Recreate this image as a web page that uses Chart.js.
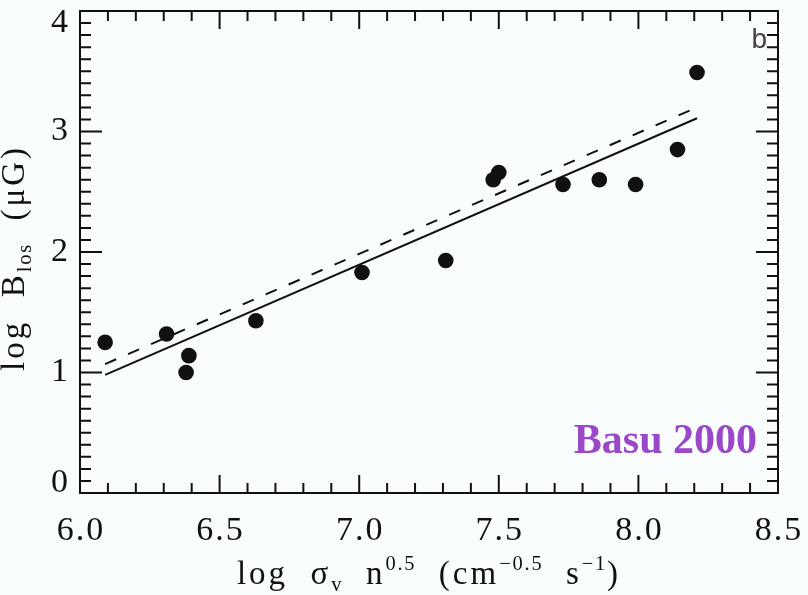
<!DOCTYPE html>
<html>
<head>
<meta charset="utf-8">
<script src="https://cdn.jsdelivr.net/npm/chart.js@4.4.0/dist/chart.umd.min.js"></script>
<style>
  html, body { margin: 0; padding: 0; background: #f9fdfd; }
  canvas { display: block; }
</style>
</head>
<body>
<canvas id="myChart_basu" width="808" height="595"></canvas>
<script>
// data
const logSigmaN = [6.09, 6.31, 6.38, 6.39, 6.63, 7.01, 7.31, 7.48, 7.50, 7.73, 7.86, 7.99, 8.14, 8.21];
const logBlos   = [1.25, 1.32, 1.00, 1.14, 1.43, 1.83, 1.93, 2.60, 2.66, 2.56, 2.60, 2.56, 2.85, 3.49];

// fit lines (end points)
const fitX      = [6.09, 8.21];
const fitSolid  = [0.98, 3.11];
const fitDashed = [1.07, 3.20];

const xTickLabels = ['6.0', '6.5', '7.0', '7.5', '8.0', '8.5'];
const yTickLabels = ['0', '1', '2', '3', '4'];

const serif = '"Liberation Serif", "Times New Roman", serif';
const ink = '#111';

function setPart(ctx, p, size, spacing) {
  ctx.font = (p.k ? size * 0.62 : size) + 'px ' + serif;
  ctx.letterSpacing = (p.k ? spacing * 0.6 : spacing) + 'px';
}

function drawRich(ctx, parts, cx, cy, size, spacing) {
  let w = 0;
  parts.forEach(p => { setPart(ctx, p, size, spacing); w += ctx.measureText(p.t).width; });
  let xpos = cx - w / 2;
  ctx.textBaseline = 'alphabetic';
  ctx.textAlign = 'left';
  parts.forEach(p => {
    setPart(ctx, p, size, spacing);
    let dy = 0;
    if (p.k === 'sup') dy = -size * 0.42;
    if (p.k === 'sub') dy = size * 0.2;
    ctx.fillText(p.t, xpos, cy + dy);
    xpos += ctx.measureText(p.t).width;
  });
  ctx.letterSpacing = '0px';
}

const idlFrame = {
  id: 'idlFrame',
  afterDraw(chart) {
    const { ctx, chartArea: a, scales: { x, y } } = chart;
    ctx.save();
    ctx.strokeStyle = ink;
    ctx.fillStyle = ink;
    ctx.lineWidth = 2;
    ctx.strokeRect(a.left, a.top, a.right - a.left, a.bottom - a.top);

    // inward ticks, x: minor every 0.1, major every 0.5
    ctx.beginPath();
    for (let i = 0; i <= 25; i++) {
      const px = x.getPixelForValue(6 + i * 0.1);
      const len = i % 5 === 0 ? 18 : 10;
      ctx.moveTo(px, a.bottom); ctx.lineTo(px, a.bottom - len);
      ctx.moveTo(px, a.top); ctx.lineTo(px, a.top + len);
    }
    // y: minor every 0.1, major every 1
    for (let i = 0; i <= 40; i++) {
      const py = y.getPixelForValue(i * 0.1);
      const len = i % 10 === 0 ? 22 : 11;
      ctx.moveTo(a.left, py); ctx.lineTo(a.left + len, py);
      ctx.moveTo(a.right, py); ctx.lineTo(a.right - len, py);
    }
    ctx.stroke();

    // tick labels
    ctx.font = '34px ' + serif;
    ctx.letterSpacing = '2px';
    ctx.textAlign = 'center';
    ctx.textBaseline = 'middle';
    xTickLabels.forEach(l => {
      ctx.fillText(l, x.getPixelForValue(parseFloat(l)) + 1, a.bottom + 38);
    });
    ctx.letterSpacing = '0px';
    ctx.textAlign = 'right';
    yTickLabels.forEach(l => {
      let py = y.getPixelForValue(parseFloat(l));
      py = Math.min(Math.max(py, a.top + 12), a.bottom - 10);
      ctx.fillText(l, a.left - 12, py);
    });

    // axis titles
    drawRich(ctx, [
      { t: 'log  ' }, { t: 'σ' }, { t: 'v', k: 'sub' }, { t: '  n' }, { t: '0.5', k: 'sup' },
      { t: '  (cm' }, { t: '−0.5', k: 'sup' }, { t: '  s' }, { t: '−1', k: 'sup' }, { t: ')' }
    ], (a.left + a.right) / 2, 584, 33, 3);

    ctx.save();
    ctx.translate(24, (a.top + a.bottom) / 2 + 6);
    ctx.rotate(-Math.PI / 2);
    drawRich(ctx, [
      { t: 'log  B' }, { t: 'los', k: 'sub' }, { t: '  (μG)' }
    ], 0, 0, 33, 3);
    ctx.restore();

    // panel letter and reference
    ctx.textAlign = 'right';
    ctx.textBaseline = 'alphabetic';
    ctx.fillStyle = '#444';
    ctx.font = '28px "Liberation Sans", Arial, sans-serif';
    ctx.fillText('b', a.right - 11, a.top + 37);

    ctx.fillStyle = '#9a48c9';
    ctx.font = 'bold 42px ' + serif;
    ctx.fillText('Basu 2000', a.right - 21, 453);
    ctx.restore();
  }
};

new Chart(document.getElementById('myChart_basu'), {
  type: 'scatter',
  data: {
    datasets: [
      {
        label: 'Basu 2000',
        data: logSigmaN.map((v, i) => ({ x: v, y: logBlos[i] })),
        pointRadius: 7.8,
        pointBackgroundColor: ink,
        pointBorderWidth: 0,
        showLine: false
      },
      {
        label: 'fit',
        data: fitX.map((v, i) => ({ x: v, y: fitSolid[i] })),
        showLine: true,
        borderColor: ink,
        borderWidth: 2,
        pointRadius: 0
      },
      {
        label: 'fit (dashed)',
        data: fitX.map((v, i) => ({ x: v, y: fitDashed[i] })),
        showLine: true,
        borderColor: ink,
        borderWidth: 2,
        borderDash: [12, 13],
        pointRadius: 0
      }
    ]
  },
  options: {
    responsive: false,
    animation: false,
    layout: { padding: { left: 80, top: 11, right: 30, bottom: 102 } },
    plugins: { legend: { display: false }, tooltip: { enabled: false } },
    scales: {
      x: { type: 'linear', min: 6, max: 8.5, display: false },
      y: { type: 'linear', min: 0, max: 4, display: false }
    }
  },
  plugins: [idlFrame]
});
</script>
</body>
</html>
